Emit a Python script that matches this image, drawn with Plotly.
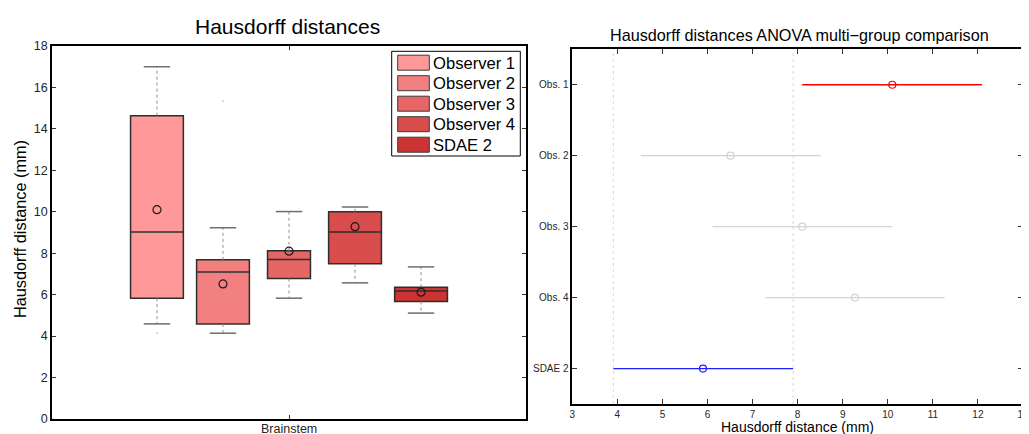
import plotly.graph_objects as go

# ---------------- data ----------------
groups = ["Observer 1", "Observer 2", "Observer 3", "Observer 4", "SDAE 2"]
positions = [-2, -1, 0, 1, 2]
box_widths = [0.8, 0.8, 0.65, 0.8, 0.8]
q1 = [5.83, 4.59, 6.78, 7.49, 5.67]
median = [9.02, 7.09, 7.70, 9.02, 6.18]
q3 = [14.64, 7.68, 8.12, 10.0, 6.36]
lower_whisker = [4.59, 4.14, 5.83, 6.57, 5.11]
upper_whisker = [17.0, 9.23, 10.01, 10.23, 7.34]
box_means = [10.1, 6.52, 8.10, 9.28, 6.12]
outlier_pos = [0, 0, 1]
outlier_val = [15.0, 4.14, 15.33]
box_colors = ["#ff9999", "#f28080", "#e66666", "#d94d4d", "#cc3333"]
category = "Brainstem"

anova_labels = ["Obs. 1", "Obs. 2", "Obs. 3", "Obs. 4", "SDAE 2"]
anova_means = [10.10, 6.51, 8.10, 9.27, 5.90]
anova_low = [8.10, 4.52, 6.11, 7.28, 3.91]
anova_high = [12.09, 8.51, 10.09, 11.26, 7.90]
anova_colors = ["#ff0000", "#d3d3d3", "#d3d3d3", "#d3d3d3", "#1f1fff"]

# page body has an 8px margin, so the figure is offset by 8px on screen
OFF = 8
W, H = 1029 - OFF, 434 - OFF
FONT = "Liberation Sans"


def px(x):
    return (x - OFF) / W


def py(y):
    return 1 - (y - OFF) / H


fig = go.Figure()

# ---------------- left: box plot ----------------
cap_half = 0.2
for i, g in enumerate(groups):
    p = positions[i]
    # whiskers (dotted)
    fig.add_trace(go.Scatter(
        x=[p, p, None, p, p],
        y=[q3[i], upper_whisker[i], None, q1[i], lower_whisker[i]],
        mode="lines", line=dict(color="#8c8c8c", width=1, dash="dot"),
        showlegend=False, hoverinfo="skip", xaxis="x", yaxis="y"))
    # caps
    fig.add_trace(go.Scatter(
        x=[p - cap_half, p + cap_half, None, p - cap_half, p + cap_half],
        y=[upper_whisker[i], upper_whisker[i], None, lower_whisker[i], lower_whisker[i]],
        mode="lines", line=dict(color="#6e6e6e", width=1.5),
        showlegend=False, hoverinfo="skip", xaxis="x", yaxis="y"))
    # box body
    fig.add_trace(go.Box(
        x=[p], q1=[q1[i]], median=[median[i]], q3=[q3[i]],
        lowerfence=[q1[i]], upperfence=[q3[i]],
        width=box_widths[i], fillcolor=box_colors[i],
        line=dict(color="#2e2e2e", width=1.5),
        name=g, showlegend=False, xaxis="x", yaxis="y"))
    # mean
    fig.add_trace(go.Scatter(
        x=[p], y=[box_means[i]], mode="markers",
        marker=dict(symbol="circle-open", size=8, color="#1a1a1a", line=dict(width=1.2)),
        showlegend=False, hoverinfo="skip", xaxis="x", yaxis="y"))

fig.add_trace(go.Scatter(
    x=[positions[k] for k in outlier_pos], y=outlier_val, mode="markers",
    marker=dict(size=2, color="#c8c8c8"), showlegend=False, hoverinfo="skip",
    xaxis="x", yaxis="y"))

# ---------------- right: ANOVA comparison ----------------
ypos = list(range(1, len(anova_labels) + 1))
for i, lab in enumerate(anova_labels):
    fig.add_trace(go.Scatter(
        x=[anova_low[i], anova_high[i]], y=[ypos[i], ypos[i]], mode="lines",
        line=dict(color=anova_colors[i], width=1.3),
        showlegend=False, hoverinfo="skip", xaxis="x2", yaxis="y2"))
    fig.add_trace(go.Scatter(
        x=[anova_means[i]], y=[ypos[i]], mode="markers",
        marker=dict(symbol="circle-open", size=7, color=anova_colors[i], line=dict(width=1.2)),
        showlegend=False, hoverinfo="skip", xaxis="x2", yaxis="y2"))

shapes = []
# reference dotted lines at the limits of the last group's interval
for xv in [anova_low[-1], anova_high[-1]]:
    shapes.append(dict(type="line", xref="x2", yref="y2 domain", x0=xv, x1=xv, y0=0, y1=1,
                       line=dict(color="#d9d9d9", width=1, dash="dot"), layer="below"))

# ---------------- manual legend ----------------
leg_x0, leg_x1, leg_y0, leg_y1 = 391.7, 520.3, 51.3, 156
shapes.append(dict(type="rect", xref="paper", yref="paper",
                   x0=px(leg_x0), x1=px(leg_x1), y0=py(leg_y1), y1=py(leg_y0),
                   line=dict(color="black", width=1), fillcolor="white", layer="above"))
row_y = [62.7, 83.2, 103.7, 124.2, 144.7]
annotations = []
for i, g in enumerate(groups):
    shapes.append(dict(type="rect", xref="paper", yref="paper",
                       x0=px(397.7), x1=px(429.3), y0=py(row_y[i] + 7.5), y1=py(row_y[i] - 7.5),
                       line=dict(color="#3a3a3a", width=1), fillcolor=box_colors[i], layer="above"))
    annotations.append(dict(text=g, xref="paper", yref="paper", x=px(431), y=py(row_y[i] + 0.5),
                            xanchor="left", yanchor="middle", showarrow=False,
                            font=dict(family=FONT, size=16.6, color="black")))

annotations += [
    dict(text="Hausdorff distances", xref="paper", yref="paper", x=px(287), y=py(27),
         xanchor="center", yanchor="middle", showarrow=False,
         font=dict(family=FONT, size=21, color="black")),
    dict(text="Hausdorff distance (mm)", xref="paper", yref="paper", x=px(20), y=py(229),
         xanchor="center", yanchor="middle", showarrow=False, textangle=-90,
         font=dict(family=FONT, size=16.3, color="black")),
    dict(text="Hausdorff distances ANOVA multi\u2212group comparison", xref="paper", yref="paper",
         x=px(799), y=py(35), xanchor="center", yanchor="middle", showarrow=False,
         font=dict(family=FONT, size=16.2, color="black")),
    dict(text="Hausdorff distance (mm)", xref="paper", yref="paper", x=px(797), y=py(427),
         xanchor="center", yanchor="middle", showarrow=False,
         font=dict(family=FONT, size=14, color="black")),
    # category label of the box plot axis
    dict(text=category, xref="x", yref="paper", x=0, y=py(428.5),
         xanchor="center", yanchor="middle", showarrow=False,
         font=dict(family=FONT, size=12.5, color="#262626")),
]

axis_common = dict(showgrid=False, zeroline=False, showline=True, linecolor="black",
                   linewidth=1.5, mirror="allticks", ticks="inside", tickcolor="#333333",
                   automargin=False)

fig.update_layout(
    width=W, height=H, margin=dict(l=0, r=0, t=0, b=0, autoexpand=False),
    paper_bgcolor="white", plot_bgcolor="white", boxmode="overlay",
    showlegend=False,
    xaxis=dict(domain=[px(52), px(526)], range=[-3.59, 3.59], tickvals=[0],
               showticklabels=False, ticklen=4, anchor="y", **axis_common),
    yaxis=dict(domain=[py(419), py(46)], range=[0, 18], tickvals=list(range(0, 19, 2)),
               ticklen=4, anchor="x",
               tickfont=dict(family=FONT, size=12.5, color="#262626"), **axis_common),
    xaxis2=dict(domain=[px(572.3), px(1023)], range=[3, 13], tickvals=list(range(3, 14)),
                ticklen=5, anchor="y2",
                tickfont=dict(family=FONT, size=10, color="#262626"), **axis_common),
    yaxis2=dict(domain=[py(404), py(49.3)], range=[5.5, 0.5], tickvals=ypos,
                ticktext=anova_labels, ticklen=5, anchor="x2",
                tickfont=dict(family=FONT, size=10, color="#262626"), **axis_common),
    shapes=shapes, annotations=annotations,
)

fig.write_html("out.html")
